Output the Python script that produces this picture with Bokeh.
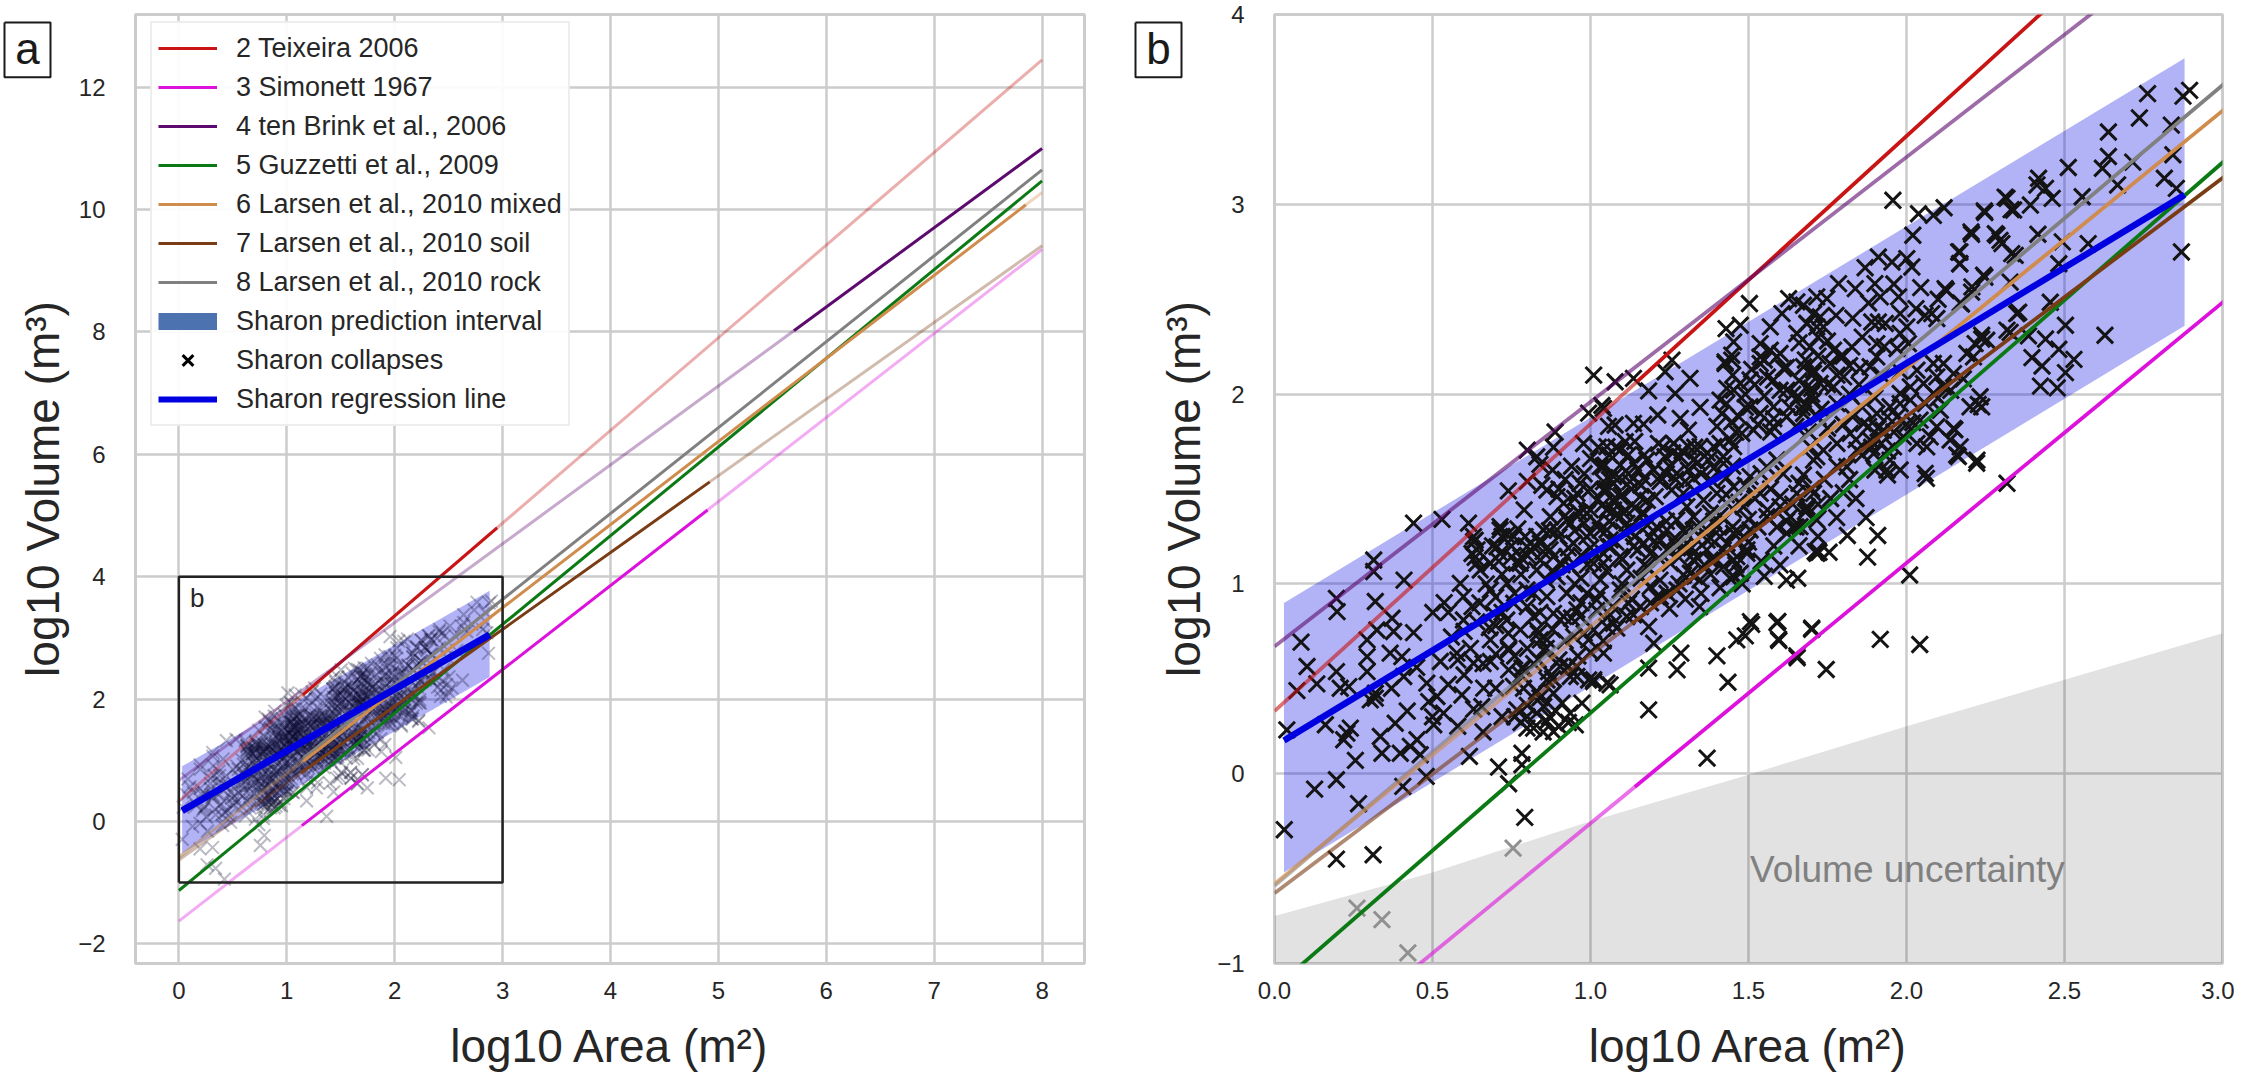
from bokeh.plotting import figure
from bokeh.layouts import row
from bokeh.models import Legend, LegendItem, Label, FixedTicker
from bokeh.embed import file_html
from bokeh.resources import INLINE

FONT = "Liberation Sans"

teixeira_x = [0, 1.15, 2.95, 8]
teixeira_y = [0.33, 2.07, 4.80, 12.45]
simonett_x = [0, 1.14, 4.9, 8]
simonett_y = [-1.63, -0.07, 5.09, 9.35]
tenbrink_x = [0, 5.7, 8]
tenbrink_y = [0.67, 8.02, 11.0]
guzzetti_x = [0, 8]
guzzetti_y = [-1.13, 10.47]
mixed_x = [0, 1.15, 7.85, 8]
mixed_y = [-0.58, 0.98, 10.08, 10.28]
soil_x = [0, 1.13, 4.92, 8]
soil_y = [-0.63, 0.79, 5.55, 9.41]
rock_x = [0, 1.15, 8]
rock_y = [-0.59, 1.03, 10.65]

band_x = [0.03, 2.88]
band_top = [0.90, 3.77]
band_bottom = [-0.52, 2.36]
regression_x = [0.03, 2.88]
regression_y = [0.175, 3.05]

uncert_x = [0, 0.5, 1, 1.5, 2, 2.5, 3]
uncert_top = [-0.75, -0.52, -0.25, -0.005, 0.25, 0.495, 0.74]
uncert_bottom = [-1, -1, -1, -1, -1, -1, -1]

gray_area = [0.755, 0.261, 0.34, 0.422]
gray_volume = [-0.392, -0.708, -0.769, -0.944]

area = [
0.44,0.53,0.614,0.74,0.80,0.83,0.80,0.84,0.888,0.883,0.846,0.79,1.01,1.078,0.994,1.036,0.978,1.025,1.057,0.635,0.635,
0.314,0.314,0.41,0.196,0.198,0.319,0.084,0.103,0.071,0.134,0.196,0.208,0.235,0.293,0.293,0.293,0.324,0.372,0.377,0.44,0.366,0.403,
0.501,0.537,0.588,0.625,0.598,0.598,0.303,0.319,0.319,0.409,0.482,0.488,0.514,0.535,0.504,0.593,0.662,0.656,0.525,0.577,0.63,0.683,0.683,0.741,0.741,0.788,
0.039,0.161,0.229,0.219,0.24,0.256,0.196,0.127,0.266,0.335,0.382,0.34,0.398,0.43,0.451,0.461,0.48,0.406,0.617,0.709,0.783,0.783,0.741,0.792,0.031,0.196,0.312,
1.184,1.184,1.286,1.274,1.40,1.435,1.463,1.49,1.506,1.369,1.345,1.184,1.2,1.052,1.01,1.442,1.474,
0.767,0.799,0.83,0.862,0.883,0.936,0.973,0.91,0.952,0.799,0.852,0.883,0.83,0.788,0.862,0.936,0.994,0.957,0.904,
1.656,1.711,1.453,1.642,1.685,1.495,1.39,1.347,1.294,1.242,1.189,1.21,1.083,1.062,1.041,0.994,1.01,1.062,0.741,0.783,0.835,0.867,0.93,0.957,0.83,0.756,0.835,0.862,0.915,0.778,0.735,0.967,1.02,1.052,1.12,1.136,1.593,1.595,1.70,1.653,
1.136,1.184,1.236,1.258,1.315,1.268,1.213,1.347,1.136,1.168,1.284,1.31,1.078,1.041,1.11,1.052,1.426,1.447,1.431,1.41,1.453,1.416,1.447,1.474,1.505,1.537,1.59,1.611,1.674,1.706,1.579,1.621,1.658,1.706,1.537,1.505,1.579,1.516,1.479,1.579,1.621,1.674,1.442,1.39,1.347,1.31,1.453,1.263,1.215,1.236,1.284,1.326,1.373,1.421,1.178,1.136,1.094,1.094,1.046,
1.22,1.273,1.326,1.168,1.125,1.073,1.041,1.094,1.157,1.205,1.257,1.294,1.052,1.105,1.163,1.052,1.105,1.057,
1.305,1.358,1.40,1.453,1.505,1.558,1.59,1.273,1.326,1.379,1.242,1.189,1.136,1.094,1.041,1.294,1.347,1.40,1.242,1.189,1.294,1.453,1.484,1.537,1.453,1.505,1.558,1.6,1.653,1.674,1.706,1.632,1.685,1.716,1.621,1.663,1.495,1.453,1.41,1.368,1.326,1.716,1.695,1.716,
0.63,0.625,0.64,0.683,0.714,0.735,0.704,0.751,0.793,0.82,0.851,0.872,0.841,0.777,0.904,0.894,0.915,0.862,0.967,0.957,1.031,0.999,0.967,1.041,1.073,0.925,0.894,0.988,0.946,1.031,1.073,1.062,1.041,0.925,
0.714,0.757,0.799,0.841,0.883,0.683,0.641,0.63,0.651,0.714,0.767,0.83,0.894,0.936,0.736,0.683,0.799,0.862,0.925,0.757,0.693,0.82,0.883,0.904,0.957,0.989,1.031,1.094,1.01,0.841,0.83,0.852,0.947,1.01,1.073,1.115,1.158,1.221,1.274,1.316,1.253,1.179,1.115,1.063,1.0,0.936,0.873,0.989,1.052,1.115,1.168,1.221,1.274,1.326,1.379,1.421,1.463,1.369,1.432,1.485,1.326,
1.957,2.038,2.085,2.119,2.02,2.246,2.312,2.331,2.204,2.281,2.296,2.333,2.165,2.168,1.911,1.869,1.954,2.001,2.017,1.785,1.838,1.9,1.917,1.975,2.045,2.122,2.244,2.207,2.17,2.08,2.096,2.059,1.911,1.89,1.933,1.98,2.001,1.777,1.748,1.727,1.685,1.827,1.906,1.906,1.97,2.006,1.853,1.885,1.737,1.769,1.79,1.758,1.695,1.706,1.801,1.727,1.685,1.769,1.685,
2.349,2.318,2.238,2.217,2.191,2.254,2.212,2.233,2.201,2.238,2.149,2.138,2.17,2.159,2.223,2.059,1.938,
2.033,2.085,2.117,2.149,2.054,2.096,2.012,1.98,1.948,1.906,1.864,1.822,1.78,1.737,1.706,2.012,1.97,1.927,1.885,1.843,1.811,2.085,2.117,2.043,2.107,2.075,2.033,1.99,1.959,1.948,1.896,2.064,2.096,
1.503,1.429,1.474,1.453,1.426,1.447,1.627,1.653,1.606,1.569,1.674,1.716,1.706,1.685,1.653,1.716,1.537,1.569,1.6,1.537,
2.763,2.896,2.875,2.737,2.838,2.639,2.639,2.62,2.716,2.668,2.843,2.816,2.854,2.512,2.556,2.87,2.575,2.413,2.44,2.461,2.392,2.418,2.318,2.339,2.248,2.416,2.206,2.286,2.302,2.344,2.169,2.169,2.248,2.328,2.493,2.482,2.455,2.355,2.328,2.628,2.503,2.238,2.206,2.174,2.126,2.386,2.44,2.397,2.429,2.482,2.53,2.503,2.424,2.477,2.227,2.153,2.164,2.222,2.063,2.318,1.94,
1.877,1.909,1.872,1.813,1.779,1.723,1.755,2.01,1.59,1.596,1.7,1.654,1.746,1.917,2.042,1.51,
# densest parts of the cloud
1.2,1.23,1.25,1.27,1.29,1.31,1.33,1.35,1.37,1.39,1.41,1.43,1.22,1.26,1.3,1.34,1.38,1.42,1.45,1.24,
1.04,1.06,1.08,1.1,1.12,1.14,1.16,1.18,1.06,1.09,1.13,1.17,1.05,1.11,1.15,1.07,
1.4,1.43,1.45,1.47,1.49,1.51,1.53,1.55,1.56,1.58,1.6,1.62,1.63,1.65,1.66,1.68,1.7,1.72,1.46,1.52,1.57,1.64,1.69,1.55,1.49,
1.08,1.1,1.12,1.15,1.17,1.18,1.2,1.22,1.24,1.26,1.28,1.3,1.32,1.34,1.36,1.38,1.14,1.25,1.33,1.39,1.21,
1.41,1.43,1.45,1.47,1.49,1.5,1.52,1.54,1.56,1.57,1.6,1.61,1.62,1.64,1.66,1.68,1.7,1.72,1.47,1.53,1.59,1.65,
1.78,1.8,1.82,1.84,1.86,1.88,1.9,1.92,1.94,1.96,1.98,2.0,1.83,1.91,1.89,1.75,
1.67,1.7,1.73,1.75,1.78,1.72,1.75,1.72,1.68,1.8,1.82,1.66,
0.69,0.72,0.75,0.77,0.8,0.83,0.85,0.87,0.71,0.78,
0.9,0.93,0.95,0.97,0.99,1.0,0.88,0.91,0.95,0.97,0.86,0.78,0.72,0.67,0.7,0.76,0.82,
0.78,0.82,0.87,0.9,0.93,0.76,0.85,0.8,0.84,0.89,
1.03,1.05,1.07,1.1,1.13,1.16,1.19,1.22,1.25,1.28,1.3,1.33,
0.92,0.95,0.98,1.0,1.02,0.88,0.9,
# wider spread of the cloud
0.56,0.58,0.6,0.62,0.64,0.66,0.68,0.7,0.72,0.74,0.76,0.55,0.65,0.7,
0.78,0.8,0.82,0.84,0.86,0.88,0.9,0.92,0.94,0.96,0.98,1.0,1.02,1.04,0.88,0.97,0.8,
0.96,0.98,1.02,1.04,1.06,1.0,1.08,1.14,1.17,0.92,0.94,1.12,
1.35,1.38,1.42,1.46,1.5,1.54,1.58,1.41,1.48,1.55,1.6,1.66,1.72,1.62,
1.74,1.78,1.82,1.86,1.9,1.94,1.98,2.02,2.06,2.1,2.14,2.18,1.76,1.8,1.84,
1.86,1.93,1.98,1.83,1.88,1.96,2.03,2.1,1.85,1.92,1.98,
0.37,0.42,0.45,0.5,0.55,0.58,0.6,0.63,0.66,0.7,0.72,
]
volume = [
1.32,1.34,1.32,1.49,1.705,1.67,1.54,1.63,1.80,1.72,1.52,1.39,2.10,2.065,1.90,1.94,1.74,1.72,1.83,1.23,1.14,
1.126,1.065,1.02,0.924,0.854,0.907,0.693,0.565,0.438,0.473,0.538,0.45,0.459,0.705,0.617,0.538,0.757,0.819,0.749,0.743,0.635,0.617,
0.849,0.901,1.003,0.88,0.933,0.81,0.389,0.398,0.424,0.512,0.477,0.38,0.407,0.319,0.258,0.415,0.451,0.354,0.591,0.635,0.582,0.591,0.705,0.652,0.547,0.556,
0.231,0.258,0.214,0.179,0.24,0.07,-0.032,-0.081,-0.158,0.196,0.266,0.108,0.108,0.144,0.179,0.1,-0.014,-0.067,0.091,0.035,0.108,0.047,-0.053,-0.23,-0.295,-0.45,-0.427,
0.336,0.556,0.635,0.547,0.621,0.482,0.705,0.726,0.801,0.082,0.88,0.775,0.687,0.477,0.495,1.03,1.056,
0.336,0.301,0.319,0.275,0.222,0.319,0.372,0.372,0.257,0.24,0.354,0.424,0.433,0.45,0.494,0.512,0.494,0.565,0.565,
1.03,1.17,1.038,1.302,1.39,1.161,1.126,1.021,1.047,0.951,0.986,0.933,0.767,0.837,0.635,0.705,0.486,0.468,0.661,0.556,0.6,0.538,0.565,0.512,0.433,0.46,0.74,0.705,0.828,0.758,0.81,0.828,0.916,0.775,0.898,0.837,0.802,0.709,0.767,0.621,
2.083,2.017,2.118,2.179,2.083,2.003,1.89,1.93,1.846,1.842,1.872,1.81,1.837,1.925,1.749,1.723,2.161,2.179,2.03,1.968,2.021,1.898,1.854,2.056,2.074,2.196,2.196,2.135,2.144,2.109,2.074,2.021,1.986,1.968,1.898,1.933,1.933,1.81,1.793,1.828,1.881,1.898,1.758,1.723,1.723,1.723,1.723,1.74,1.74,1.67,1.67,1.653,1.653,1.635,1.653,1.635,1.705,1.626,1.626,
1.565,1.582,1.556,1.556,1.539,1.53,1.495,1.46,1.46,1.46,1.495,1.477,1.39,1.372,1.372,1.284,1.275,1.196,
1.407,1.442,1.477,1.512,1.565,1.617,1.653,1.337,1.354,1.372,1.284,1.249,1.196,1.144,1.109,1.284,1.319,1.302,1.179,1.161,1.196,1.39,1.407,1.477,1.267,1.284,1.354,1.407,1.477,1.574,1.477,1.354,1.407,1.337,1.267,1.302,1.179,1.126,1.249,1.179,1.126,1.161,1.723,1.67,
1.223,1.16,1.109,1.109,1.302,1.258,1.196,1.144,1.249,1.196,1.284,1.179,1.126,1.109,1.109,1.46,1.425,1.495,1.53,1.477,1.618,1.39,1.372,1.539,1.565,1.337,1.284,1.249,1.214,1.284,1.39,1.232,1.161,1.144,
1.284,1.249,1.196,1.214,1.144,1.108,1.179,1.249,1.073,1.161,1.108,1.073,1.038,1.091,1.003,0.968,0.968,0.933,0.951,0.898,0.845,0.828,0.845,0.81,0.863,0.951,1.021,0.968,1.108,0.705,0.758,0.652,0.722,0.758,0.793,0.828,0.88,0.933,0.968,1.056,1.108,1.091,1.073,1.196,1.266,1.319,1.354,1.371,1.389,1.319,1.214,1.231,1.196,1.161,1.126,1.091,1.144,1.231,1.214,1.249,1.284,
3.021,2.95,2.942,2.982,2.837,2.965,3.038,2.972,2.854,2.845,2.81,2.74,2.749,2.687,2.722,2.666,2.696,2.714,2.67,2.582,2.556,2.582,2.512,2.512,2.561,2.556,2.626,2.565,2.48,2.424,2.398,2.415,2.38,2.38,2.372,2.424,2.354,2.415,2.503,2.407,2.372,2.249,2.266,2.196,2.24,2.266,2.135,2.144,2.354,2.231,2.196,2.161,2.249,2.126,2.091,2.056,2.038,2.038,1.933,
2.424,2.337,2.31,2.266,2.214,2.284,2.196,1.986,1.933,1.933,1.819,1.758,1.722,1.679,1.652,1.582,1.6,
2.126,2.161,2.161,2.108,2.056,2.091,2.038,2.003,1.933,1.898,1.845,1.793,1.74,1.705,1.652,1.968,1.88,1.81,1.758,1.705,1.617,2.003,2.038,1.863,1.915,1.775,1.74,1.775,1.722,1.652,1.687,1.722,1.828,
2.477,2.345,2.363,2.275,2.17,2.205,2.503,2.486,2.424,2.354,2.468,2.512,2.424,2.372,2.319,2.354,2.266,2.231,2.214,2.161,
3.583,3.6,3.57,3.455,3.417,3.381,3.252,3.19,3.222,3.102,3.261,3.137,3.084,3.194,3.04,2.749,2.793,3.102,3.084,3.031,2.996,3.137,3.031,2.97,2.957,2.842,2.842,2.837,2.793,2.731,2.749,2.687,2.616,2.59,2.802,2.687,2.484,2.431,2.325,2.31,2.363,2.29,2.537,2.475,2.545,2.307,2.29,2.192,2.148,2.236,2.183,2.113,2.042,2.033,1.945,1.812,1.671,1.636,1.556,1.53,1.574,
1.141,1.255,1.349,1.255,1.349,1.167,1.167,1.047,0.796,0.702,0.761,0.611,0.549,0.708,0.681,0.787,
# densest parts of the cloud
1.6,1.72,1.62,1.55,1.7,1.6,1.72,1.58,1.69,1.61,1.74,1.56,1.54,1.69,1.54,1.64,1.55,1.67,1.62,1.58,
1.42,1.55,1.36,1.47,1.58,1.4,1.52,1.44,1.33,1.56,1.5,1.37,1.5,1.39,1.6,1.44,
1.83,1.95,2.1,1.88,2.0,2.13,1.84,1.99,2.09,1.87,2.02,2.14,1.93,1.83,2.07,1.95,2.03,1.88,1.8,2.05,1.8,2.0,1.8,2.18,1.93,
1.22,1.13,1.29,1.18,1.1,1.31,1.22,1.13,1.33,1.23,1.14,1.27,1.19,1.3,1.1,1.24,1.25,1.17,1.12,1.33,1.3,
1.36,1.47,1.3,1.43,1.52,1.34,1.45,1.58,1.39,1.5,1.46,1.58,1.33,1.42,1.53,1.38,1.5,1.42,1.27,1.3,1.3,1.3,
1.95,1.84,2.0,1.76,1.93,1.83,1.98,1.74,1.88,1.8,1.95,1.84,1.88,1.82,1.72,1.82,
1.93,2.0,1.92,2.05,2.1,2.2,2.28,2.3,2.18,2.2,2.15,2.27,
1.2,1.25,1.2,1.29,1.15,1.25,1.17,1.28,1.12,1.14,
1.25,1.19,1.28,1.15,1.1,1.19,1.07,1.1,1.0,1.03,1.02,1.05,1.05,1.0,0.93,0.95,0.95,
0.27,0.24,0.3,0.25,0.27,0.3,0.22,0.36,0.4,0.33,
0.95,1.07,0.88,1.0,0.92,1.03,0.9,1.02,0.87,1.0,0.92,1.04,
1.55,1.45,1.58,1.5,1.44,1.6,1.5,
# wider spread of the cloud
0.72,0.6,0.75,0.66,0.8,0.58,0.77,0.63,0.85,0.74,0.62,0.85,0.9,0.78,
0.52,0.66,0.58,0.85,0.66,0.76,0.6,0.7,0.82,0.62,0.74,0.64,0.86,0.7,0.5,0.9,0.88,
1.38,1.32,1.32,1.62,1.68,1.66,1.72,1.75,1.68,1.36,1.62,1.68,
0.95,1.05,1.18,1.1,1.22,1.12,1.2,0.98,1.0,1.04,1.1,1.2,1.25,1.02,
1.55,1.62,1.55,1.68,1.6,1.7,1.6,1.85,1.95,1.98,2.02,2.08,1.45,1.48,1.45,
2.3,2.25,2.32,2.4,2.48,2.58,2.45,2.5,2.05,2.1,2.12,
0.45,0.33,0.56,0.3,0.47,0.25,0.52,0.34,0.22,0.45,0.3,
]

a_x_ticks = [0, 1, 2, 3, 4, 5, 6, 7, 8]
a_y_ticks = [-2, 0, 2, 4, 6, 8, 10, 12]
a_y_labels = ["\u22122", "0", "2", "4", "6", "8", "10", "12"]
b_x_ticks = [0, 0.5, 1, 1.5, 2, 2.5, 3]
b_x_labels = ["0.0", "0.5", "1.0", "1.5", "2.0", "2.5", "3.0"]
b_y_ticks = [-1, 0, 1, 2, 3, 4]
b_y_labels = ["\u22121", "0", "1", "2", "3", "4"]

legend_names = ["2 Teixeira 2006", "3 Simonett 1967", "4 ten Brink et al., 2006", "5 Guzzetti et al., 2009",
                "6 Larsen et al., 2010 mixed", "7 Larsen et al., 2010 soil", "8 Larsen et al., 2010 rock",
                "Sharon prediction interval", "Sharon collapses", "Sharon regression line"]

lines = [
    (teixeira_x, teixeira_y, (1, 2), "#c81414"),
    (simonett_x, simonett_y, (1, 2), "#dc12dc"),
    (tenbrink_x, tenbrink_y, (1, 2), "#5c0a6e"),
    (guzzetti_x, guzzetti_y, (0, 1), "#0c7a14"),
    (rock_x, rock_y, (1, 2), "#808080"),
    (mixed_x, mixed_y, (1, 2), "#d08c4c"),
    (soil_x, soil_y, (1, 2), "#7a3c14"),
]
legend_order = [0, 1, 2, 3, 5, 6, 4]
no_point = [float("nan")]


def base(x_range, y_range, border_left, border_right, total_w, xt, yt, xlabels, ylabels, ylab_standoff, margin):
    p = figure(width=total_w, height=1074, x_range=x_range, y_range=y_range, output_backend="svg",
               toolbar_location=None, min_border_left=border_left, min_border_right=border_right,
               min_border_top=14, min_border_bottom=110, margin=margin, border_fill_color=None,
               x_axis_label="log10 Area (m\u00b2)", y_axis_label="log10 Volume (m\u00b3)")
    p.outline_line_color = "#cccccc"
    p.outline_line_width = 3
    p.background_fill_color = "white"
    p.grid.grid_line_color = "#cccccc"
    p.grid.grid_line_width = 2.5
    for ax in (p.xaxis[0], p.yaxis[0]):
        ax.axis_line_color = None
        ax.major_tick_line_color = None
        ax.minor_tick_line_color = None
        ax.major_label_text_font = FONT
        ax.major_label_text_font_size = "24px"
        ax.major_label_text_color = "#262626"
        ax.axis_label_text_font = FONT
        ax.axis_label_text_font_size = "46px"
        ax.axis_label_text_font_style = "normal"
        ax.axis_label_text_color = "#262626"
    p.xaxis[0].ticker = FixedTicker(ticks=xt)
    p.yaxis[0].ticker = FixedTicker(ticks=yt)
    p.xaxis[0].major_label_overrides = dict(zip(xt, xlabels))
    p.yaxis[0].major_label_overrides = dict(zip(yt, ylabels))
    p.xaxis[0].major_label_standoff = 12
    p.yaxis[0].major_label_standoff = 24
    p.xaxis[0].axis_label_standoff = 18
    p.yaxis[0].axis_label_standoff = ylab_standoff
    p.xgrid[0].ticker = FixedTicker(ticks=xt)
    p.ygrid[0].ticker = FixedTicker(ticks=yt)
    return p


def tag_overlay(text, width, box_left, box_right):
    # A full-height see-through figure, in page pixels, holding the boxed panel letter.
    t = figure(width=width, height=1074, x_range=(0, width), y_range=(1074, 0), output_backend="svg",
               toolbar_location=None, min_border_left=0, min_border_right=0, min_border_top=0, min_border_bottom=0,
               margin=0, border_fill_color=None, background_fill_color=None)
    t.axis.visible = False
    t.grid.visible = False
    t.outline_line_color = None
    t.line([box_left, box_right, box_right, box_left, box_left], [9, 9, 71, 71, 9], line_color="#1a1a1a", line_width=2)
    t.add_layout(Label(x=(box_left + box_right) / 2, y=38, text=text, text_font=FONT, text_font_size="44px",
                       text_color="#1a1a1a", text_align="center", text_baseline="middle"))
    return t


def draw_lines(p, width, pale):
    solids = []
    for xs, ys, (i, j), col in lines:
        if i > 0:
            p.line(xs[:i + 1], ys[:i + 1], line_color=col, line_width=width, line_alpha=pale)
        if j < len(xs) - 1:
            p.line(xs[j:], ys[j:], line_color=col, line_width=width, line_alpha=pale)
        solids.append(p.line(xs[i:j + 1], ys[i:j + 1], line_color=col, line_width=width))
    return solids


# panel a
pa = base((-0.402, 8.393), (-2.323, 13.19), 135, 16, 1100, a_x_ticks, a_y_ticks,
          [str(t) for t in a_x_ticks], a_y_labels, 6, (0, 0, 0, -60))
pa.varea(band_x, band_bottom, band_top, fill_color="#0000e0", fill_alpha=0.3)
pa.scatter(area + gray_area, volume + gray_volume, marker="x", size=18, line_color="#0a0a30", line_width=2, line_alpha=0.28)
solids = draw_lines(pa, 3, 0.35)
pa.line(regression_x, regression_y, line_color="#0000e0", line_width=7)
pa.line([0, 3, 3, 0, 0], [-1, -1, 4, 4, -1], line_color="#222222", line_width=2.5)
pa.add_layout(Label(x=0.17, y=3.65, text="b", text_font=FONT, text_font_size="26px", text_color="#262626",
                    text_align="center", text_baseline="middle"))

r_band_key = pa.line(no_point, no_point, line_color="#4c72b0", line_width=17)
r_x_key = pa.scatter(no_point, no_point, marker="x", size=16, line_color="black", line_width=3)
r_reg_key = pa.line(no_point, no_point, line_color="#0000e0", line_width=6)
renderers = [solids[i] for i in legend_order] + [r_band_key, r_x_key, r_reg_key]
items = [LegendItem(label=n, renderers=[r]) for n, r in zip(legend_names, renderers)]
legend = Legend(items=items, location=(15, 537), glyph_width=59, glyph_height=38, label_height=38, spacing=1,
                label_standoff=19, padding=6, margin=0, label_text_font=FONT, label_text_font_size="27px",
                label_text_color="#262626", border_line_color="#dddddd", border_line_width=2,
                background_fill_alpha=0.92)
pa.add_layout(legend)

# panel b
pb = base((0, 3), (-1, 4), 174, 12, 1134, b_x_ticks, b_y_ticks, b_x_labels, b_y_labels, 4, (0, 0, 0, -90))
pb.varea(uncert_x, uncert_bottom, uncert_top, fill_color="black", fill_alpha=0.115)
pb.varea(band_x, band_bottom, band_top, fill_color="#0000e0", fill_alpha=0.3)
pb.scatter(gray_area, gray_volume, marker="x", size=23, line_color="#909090", line_width=3)
pb.scatter(area, volume, marker="x", size=23, line_color="#141414", line_width=3)
draw_lines(pb, 3.8, 0.6)
pb.line(regression_x, regression_y, line_color="#0000e0", line_width=6.5)
pb.add_layout(Label(x=1.505, y=-0.505, text="Volume uncertainty", text_font=FONT, text_font_size="37px",
                    text_color="#808080", text_align="left", text_baseline="middle"))

page = row(tag_overlay("a", 60, 4, 50), pa, tag_overlay("b", 90, 35, 81), pb, spacing=0)
open("out.html", "w").write(file_html(page, INLINE))
